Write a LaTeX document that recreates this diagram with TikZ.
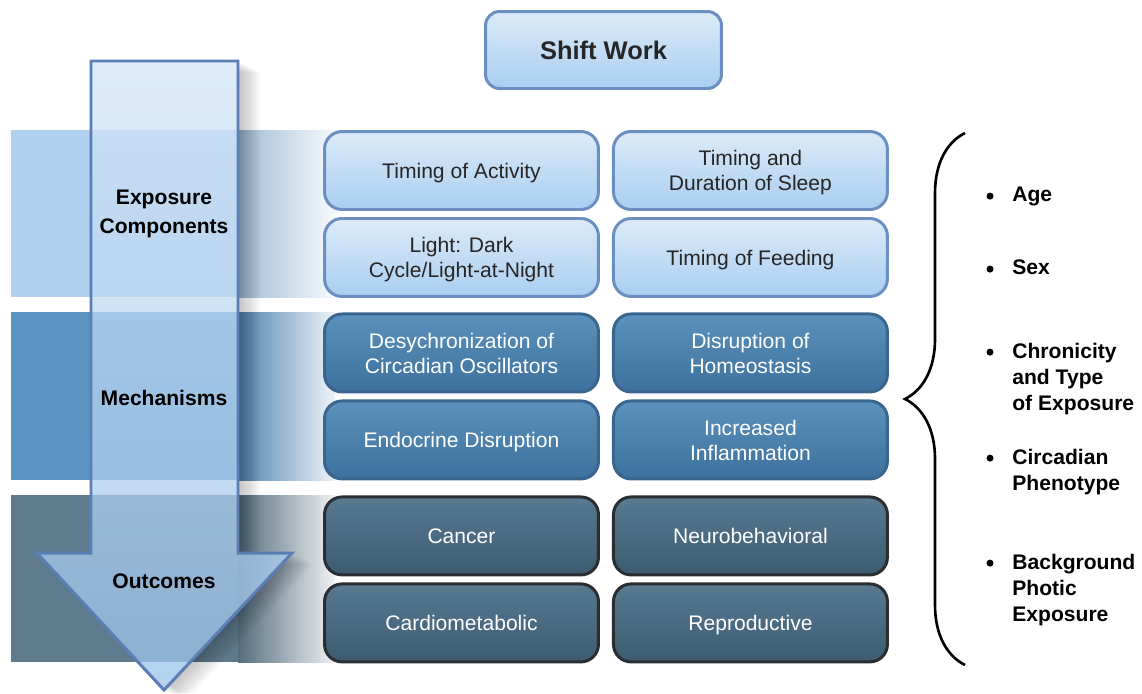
\documentclass[tikz,border=0pt]{standalone}
\usepackage{fontspec}
\setmainfont{Liberation Sans}
\usetikzlibrary{positioning, calc, decorations.pathreplacing}

\definecolor{bandA}{HTML}{B0D0EE}
\definecolor{bandB}{HTML}{5A93C2}
\definecolor{bandC}{HTML}{5E7A8D}
\definecolor{arrowline}{HTML}{5B7FB5}
\definecolor{arrowtop}{HTML}{D4E6F8}
\definecolor{arrowbot}{HTML}{9CC3E8}
\definecolor{lighttop}{HTML}{DCEBF9}
\definecolor{lightbot}{HTML}{A9CEF0}
\definecolor{lightline}{HTML}{6A8FC0}
\definecolor{midtop}{HTML}{5B91BC}
\definecolor{midbot}{HTML}{3E719D}
\definecolor{midline}{HTML}{3A658E}
\definecolor{darktop}{HTML}{577A91}
\definecolor{darkbot}{HTML}{3C5B70}
\definecolor{darkline}{HTML}{2A2E32}

\newcommand\boxfont{\fontsize{12}{14.3}\selectfont}
\newcommand\arrowpath{(91,61) -- (238,61) -- (238,553) -- (292,553) -- (164,690) -- (37,553) -- (91,553) -- cycle}

\begin{document}
\begin{tikzpicture}[x=0.02cm, y=-0.02cm, node distance=1.74cm and 5.78cm, on grid,
	box/.style={rounded corners=10pt, line width=1.7pt, minimum width=5.48cm, minimum height=1.56cm, align=center, text depth=0pt, font=\boxfont},
	lbox/.style={box, draw=lightline, top color=lighttop, bottom color=lightbot, text=black!85},
	mbox/.style={box, draw=midline, top color=midtop, bottom color=midbot, text=white},
	dbox/.style={box, draw=darkline, top color=darktop, bottom color=darkbot, text=white},
	stage/.style={font=\bfseries\fontsize{12}{16.5}\selectfont, align=center},
	factor/.style={font=\bfseries\fontsize{12}{15}\selectfont, align=left, anchor=north west, inner sep=0pt}]
	\useasboundingbox (0,0) rectangle (1142,693);

	%Faixas de fundo:
	\foreach \c/\t/\b in {bandA/130/297, bandB/312/480, bandC/495/662}{
		\fill[\c] (11,\t) rectangle (238,\b);
		\shade[left color=\c!90!black, right color=\c!10] (238,\t) rectangle (335,\b);
	}

	%Seta (sombra fora do corpo, depois o corpo):
	\begin{scope}[even odd rule]
		\clip (0,0) rectangle (1142,693) \arrowpath;
		\foreach \s in {2,4,...,22}
			\fill[black, opacity=0.025, shift={(\s,0.5*\s)}] \arrowpath;
	\end{scope}
	\path[draw=arrowline, line width=1.7pt, top color=arrowtop, bottom color=arrowbot, fill opacity=.75] \arrowpath;

	\node[stage] (exposure) at (164,214) {Exposure\\Components};
	\node[stage] (mechanisms) at (164,398) {Mechanisms};
	\node[stage] (outcomes) at (164,581) {Outcomes};

	\node[lbox, font=\bfseries\fontsize{14.5}{17}\selectfont, minimum width=4.72cm, minimum height=1.54cm, rounded corners=8pt] (shift) at (603.5,50) {Shift Work};

	%Caixas:
	\node[lbox] (activity) at (461.5,170.5) {Timing of Activity};
	\node[lbox, right=of activity] (sleep) {Timing and\\Duration of Sleep};
	\node[lbox, below=of activity] (light) {Light: Dark\\Cycle/Light-at-Night};
	\node[lbox, right=of light] (feeding) {Timing of Feeding};
	\node[mbox, below=1.91cm of light] (desync) {Desychronization of\\Circadian Oscillators};
	\node[mbox, right=of desync] (homeo) {Disruption of\\Homeostasis};
	\node[mbox, below=of desync] (endo) {Endocrine Disruption};
	\node[mbox, right=of endo] (inflam) {Increased\\Inflammation};
	\node[dbox, below=1.92cm of endo] (cancer) {Cancer};
	\node[dbox, right=of cancer] (neuro) {Neurobehavioral};
	\node[dbox, below=of cancer] (cardio) {Cardiometabolic};
	\node[dbox, right=of cardio] (repro) {Reproductive};

	%Chave e fatores:
	\coordinate (braceB) at (965,665);
	\coordinate (braceT) at (965,133);
	\draw[line width=1.5pt, decorate, decoration={brace, amplitude=1.2cm}] (braceB) -- (braceT);

	\node[factor] (age) at (1012,186.5) {Age};
	\node[factor] (sex) at (1012,259.5) {Sex};
	\node[factor] (chron) at (1012,342.5) {Chronicity\\and Type\\of Exposure};
	\node[factor] (phenotype) at (1012,448.5) {Circadian\\Phenotype};
	\node[factor] (photic) at (1012,553.5) {Background\\Photic\\Exposure};
	\foreach \n in {age, sex, chron, phenotype, photic}
		\fill ($(\n.north west)+(-22,9.6)$) circle (2pt);
\end{tikzpicture}
\end{document}
